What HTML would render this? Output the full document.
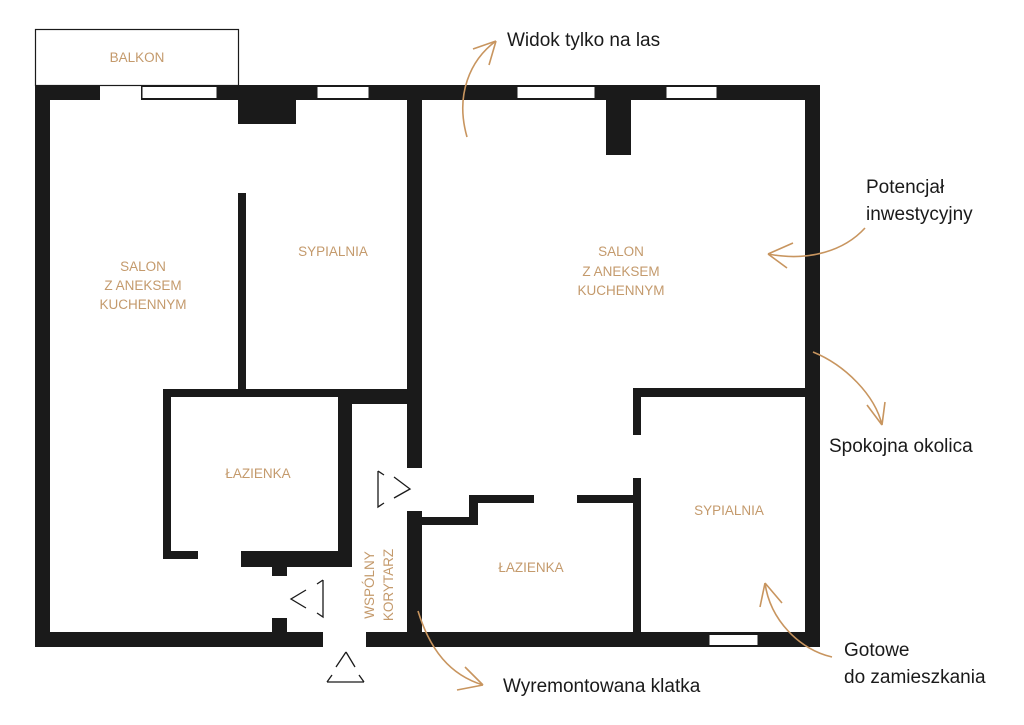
<!DOCTYPE html>
<html><head><meta charset="utf-8"><style>
html,body{margin:0;padding:0;background:#fff;}
svg{display:block;}
.r{font-family:"Liberation Sans",sans-serif;font-size:13.5px;fill:#c49a6c;text-anchor:middle;}
.a{font-family:"Liberation Sans",sans-serif;font-size:19px;fill:#1a1a1a;}
.c{fill:none;stroke:#c8955f;stroke-width:1.6;}
</style></head><body>
<svg width="1024" height="725" viewBox="0 0 1024 725" xmlns="http://www.w3.org/2000/svg">
<rect x="35.5" y="29.5" width="203" height="56" fill="#fff" stroke="#1a1a1a" stroke-width="1.2"/>
<g fill="#1a1a1a">
<rect x="35" y="85" width="65" height="15"/>
<rect x="141" y="85" width="679" height="15"/>
<rect x="238" y="100" width="58" height="24"/>
<rect x="606" y="100" width="25" height="55"/>
<rect x="35" y="85" width="15" height="562"/>
<rect x="805" y="85" width="15" height="562"/>
<rect x="35" y="632" width="288" height="15"/>
<rect x="366" y="632" width="454" height="15"/>
<rect x="407" y="85" width="15" height="383"/>
<rect x="407" y="511" width="15" height="136"/>
<rect x="238" y="193" width="8" height="200"/>
<rect x="163" y="389" width="244" height="8"/>
<rect x="338" y="389" width="69" height="15"/>
<rect x="163" y="389" width="8" height="170"/>
<rect x="163" y="551" width="35" height="8"/>
<rect x="241" y="551" width="111" height="8"/>
<rect x="338" y="389" width="14" height="178"/>
<rect x="241" y="559" width="111" height="8"/>
<rect x="272" y="559" width="15" height="17"/>
<rect x="272" y="618" width="15" height="15"/>
<rect x="633" y="388" width="172" height="9"/>
<rect x="633" y="388" width="8" height="47"/>
<rect x="633" y="478" width="8" height="156"/>
<rect x="577" y="495" width="60" height="8"/>
<rect x="469" y="495" width="65" height="8"/>
<rect x="469" y="495" width="9" height="30"/>
<rect x="422" y="517" width="56" height="8"/>
</g>
<g fill="#fff" stroke="#1a1a1a" stroke-width="1">
<rect x="142" y="86.5" width="75" height="12"/>
<rect x="317" y="86.5" width="52" height="12"/>
<rect x="517" y="86.5" width="78" height="12"/>
<rect x="666" y="86.5" width="51" height="12"/>
<rect x="709" y="634.5" width="49" height="11"/>
</g>
<g fill="none" stroke="#1a1a1a" stroke-width="1.3">
<path d="M346,652 L336,667 M355,667 L346,652 M327,682 L364,682 M327,682 L332,675 M364,682 L359,675"/>
<path d="M378,471 L378,507 L384,503 M378,471 L384,475 M394,477 L410,489 L394,498"/>
<path d="M323,580 L323,617 L317,613 M323,580 L317,584 M306,590 L291,599 L306,608"/>
</g>
<text class="r" x="137" y="62">BALKON</text>
<text class="r" x="143" y="271">SALON</text>
<text class="r" x="143" y="290">Z ANEKSEM</text>
<text class="r" x="143" y="309">KUCHENNYM</text>
<text class="r" x="333" y="256">SYPIALNIA</text>
<text class="r" x="621" y="256">SALON</text>
<text class="r" x="621" y="276">Z ANEKSEM</text>
<text class="r" x="621" y="295">KUCHENNYM</text>
<text class="r" x="258" y="478">ŁAZIENKA</text>
<text class="r" x="531" y="572">ŁAZIENKA</text>
<text class="r" x="729" y="515">SYPIALNIA</text>
<g transform="translate(380,585) rotate(-90)">
<text class="r" x="0" y="-6">WSPÓLNY</text>
<text class="r" x="0" y="13">KORYTARZ</text>
</g>
<text class="a" x="507" y="46">Widok tylko na las</text>
<text class="a" x="866" y="193">Potencjał</text>
<text class="a" x="866" y="220">inwestycyjny</text>
<text class="a" x="829" y="452">Spokojna okolica</text>
<text class="a" x="844" y="656">Gotowe</text>
<text class="a" x="844" y="683">do zamieszkania</text>
<text class="a" x="503" y="692">Wyremontowana klatka</text>
<path class="c" d="M467,137 C455,95 470,60 496,41 M496,41 L473,49 M496,41 L489,65"/>
<path class="c" d="M865,228 C845,250 810,262 768,254 M768,254 L793,243 M768,254 L787,268"/>
<path class="c" d="M813,352 C845,365 875,395 882,425 M882,425 L867,405 M882,425 L885,402"/>
<path class="c" d="M832,657 C800,650 770,620 765,583 M765,583 L760,607 M765,583 L782,603"/>
<path class="c" d="M418,611 C430,650 450,675 483,685 M483,685 L465,667 M483,685 L457,690"/>
</svg>
</body></html>
